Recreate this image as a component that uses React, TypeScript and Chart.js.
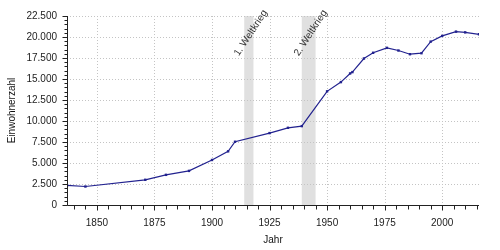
import React, { useEffect, useRef } from 'react';
import { Chart, registerables } from 'chart.js';

Chart.register(...registerables);

const years = [1837, 1845, 1871, 1880, 1890, 1900, 1907, 1910, 1925, 1933, 1939, 1950, 1956, 1960, 1961, 1966, 1970, 1976, 1981, 1986, 1991, 1995, 2000, 2006, 2010, 2016];
const population = [2330, 2200, 3000, 3590, 4060, 5360, 6390, 7530, 8560, 9190, 9390, 13530, 14630, 15660, 15820, 17440, 18120, 18710, 18390, 17950, 18070, 19450, 20130, 20640, 20550, 20320];

const xMin = 1837;
const xMax = 2016;
const xMajorTicks = [1850, 1875, 1900, 1925, 1950, 1975, 2000];
const xMinorStep = 5;
const yMax = 22500;
const yMajorStep = 2500;
const yMinorStep = 500;

const warLabels = ['1. Weltkrieg', '2. Weltkrieg'];
const warStarts = [1914, 1939];
const warEnds = [1918, 1945];

const xTitle = 'Jahr';
const yTitle = 'Einwohnerzahl';

const FONT = '"Liberation Sans", Arial, sans-serif';

function fmt(v: number): string {
  return String(Math.round(v)).replace(/\B(?=(\d{3})+(?!\d))/g, '.');
}

const customPlugin = {
  id: 'customDecor',
  beforeDatasetsDraw(chart: any) {
    const { ctx, chartArea: a, scales } = chart;
    const x = scales.x;
    const y = scales.y;
    ctx.save();
    // war bands
    ctx.fillStyle = '#e0e0e0';
    for (let i = 0; i < warStarts.length; i++) {
      const x1 = x.getPixelForValue(warStarts[i]);
      const x2 = x.getPixelForValue(warEnds[i]);
      ctx.fillRect(x1, a.top, x2 - x1, a.bottom - a.top);
    }
    // grid
    ctx.strokeStyle = '#c4c4c4';
    ctx.lineWidth = 1;
    ctx.setLineDash([1, 2]);
    for (let v = yMajorStep; v <= yMax; v += yMajorStep) {
      const py = Math.round(y.getPixelForValue(v)) + 0.5;
      ctx.beginPath();
      ctx.moveTo(a.left, py);
      ctx.lineTo(a.right, py);
      ctx.stroke();
    }
    for (const v of xMajorTicks) {
      const px = Math.round(x.getPixelForValue(v)) + 0.5;
      ctx.beginPath();
      ctx.moveTo(px, a.top);
      ctx.lineTo(px, a.bottom);
      ctx.stroke();
    }
    ctx.setLineDash([]);
    // war labels
    ctx.fillStyle = '#333';
    ctx.font = `10px ${FONT}`;
    ctx.textAlign = 'center';
    ctx.textBaseline = 'middle';
    for (let i = 0; i < warStarts.length; i++) {
      const cx = (x.getPixelForValue(warStarts[i]) + x.getPixelForValue(warEnds[i])) / 2 + 2;
      const cy = a.top + 17;
      ctx.save();
      ctx.translate(cx, cy);
      ctx.rotate((-57 * Math.PI) / 180);
      ctx.fillText(warLabels[i], 0, 0);
      ctx.restore();
    }
    ctx.restore();
  },
  afterDraw(chart: any) {
    const { ctx, chartArea: a, scales } = chart;
    const x = scales.x;
    const y = scales.y;
    ctx.save();
    ctx.strokeStyle = '#222';
    ctx.lineWidth = 1;
    const ax = Math.round(a.left) + 0.5;
    const ay = Math.round(a.bottom) + 0.5;
    ctx.beginPath();
    ctx.moveTo(ax, a.top);
    ctx.lineTo(ax, ay);
    ctx.lineTo(a.right, ay);
    ctx.stroke();
    // y ticks
    for (let v = 0; v <= yMax; v += yMinorStep) {
      const py = Math.round(y.getPixelForValue(v)) + 0.5;
      const len = v % yMajorStep === 0 ? 5 : 3;
      ctx.beginPath();
      ctx.moveTo(ax - len, py);
      ctx.lineTo(ax, py);
      ctx.stroke();
    }
    // x ticks
    for (let v = Math.ceil(xMin / xMinorStep) * xMinorStep; v <= xMax; v += xMinorStep) {
      const px = Math.round(x.getPixelForValue(v)) + 0.5;
      const len = xMajorTicks.includes(v) ? 5 : 4;
      ctx.beginPath();
      ctx.moveTo(px, ay);
      ctx.lineTo(px, ay + len);
      ctx.stroke();
    }
    // titles
    ctx.fillStyle = '#111';
    ctx.font = `10px ${FONT}`;
    ctx.textAlign = 'center';
    ctx.textBaseline = 'middle';
    ctx.fillText(xTitle, (a.left + a.right) / 2, 240);
    ctx.save();
    ctx.translate(12, (a.top + a.bottom) / 2);
    ctx.rotate(-Math.PI / 2);
    ctx.fillText(yTitle, 0, 0);
    ctx.restore();
    ctx.restore();
  },
};

export default function App() {
  const ref = useRef<HTMLCanvasElement | null>(null);

  useEffect(() => {
    document.body.style.margin = '0';
    const canvas = ref.current;
    if (!canvas) return;
    const chart = new Chart(canvas, {
      type: 'line',
      data: {
        datasets: [
          {
            data: years.map((yr, i) => ({ x: yr, y: population[i] })),
            borderColor: '#22228f',
            backgroundColor: '#22228f',
            borderWidth: 1.2,
            pointStyle: 'rect',
            pointRadius: 1.7,
            pointBorderWidth: 0,
            tension: 0,
          },
        ],
      },
      options: {
        animation: false,
        responsive: false,
        devicePixelRatio: 1,
        layout: { padding: { top: 15, right: 21, left: 0, bottom: 0 } },
        plugins: { legend: { display: false }, tooltip: { enabled: false } },
        scales: {
          x: {
            type: 'linear',
            min: xMin,
            max: xMax,
            grid: { display: false, drawTicks: false },
            border: { display: false },
            afterBuildTicks: (scale: any) => {
              scale.ticks = xMajorTicks.map((v) => ({ value: v }));
            },
            afterFit: (scale: any) => {
              scale.height = 45;
            },
            ticks: {
              autoSkip: false,
              maxRotation: 0,
              padding: 12,
              color: '#222',
              font: { family: FONT, size: 10 },
              callback: (v: any) => String(v),
            },
          },
          y: {
            type: 'linear',
            min: 0,
            max: yMax,
            grid: { display: false, drawTicks: false },
            border: { display: false },
            afterFit: (scale: any) => {
              scale.width = 67;
            },
            ticks: {
              stepSize: yMajorStep,
              padding: 10,
              color: '#222',
              font: { family: FONT, size: 10 },
              callback: (v: any) => fmt(Number(v)),
            },
          },
        },
      },
      plugins: [customPlugin],
    });
    return () => chart.destroy();
  }, []);

  return (
    <div style={{ position: 'fixed', left: 0, top: 0, width: 500, height: 250 }}>
      <canvas ref={ref} width={500} height={250} />
    </div>
  );
}
